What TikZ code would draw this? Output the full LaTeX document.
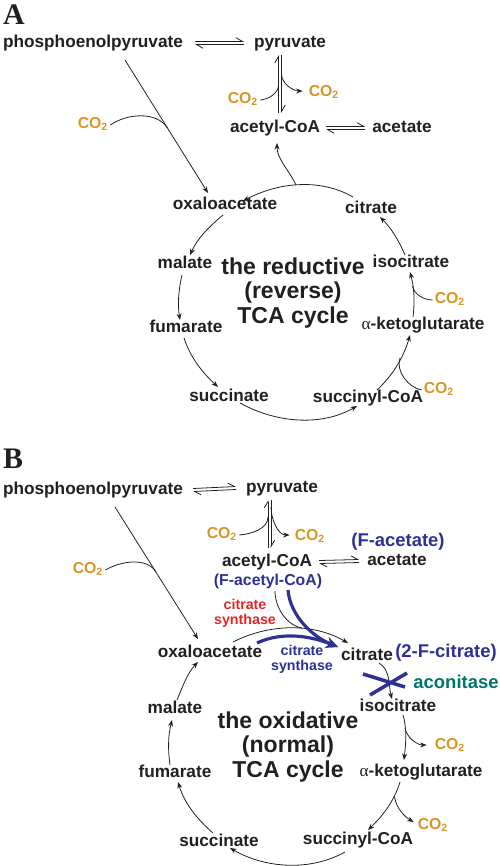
\documentclass[tikz,border=0pt]{standalone}
\usepackage{fontspec}
\setmainfont{Liberation Sans}
\newfontfamily\panelfont{Liberation Serif}
\usepackage{tikz}
\usetikzlibrary{arrows.meta, calc}
\definecolor{inkdark}{HTML}{231F20}
\definecolor{co2orange}{HTML}{D79628}
\definecolor{fluoroblue}{HTML}{2E3192}
\definecolor{enzred}{HTML}{E3262A}
\definecolor{acoteal}{HTML}{00756A}
\newcommand{\cotwo}{CO\textsubscript{2}}
\newcommand{\alphaglyph}{{\panelfont\mdseries α}}

\begin{document}
\begin{tikzpicture}[x=0.02cm, y=0.02cm,
    met/.style={font=\bfseries\fontsize{9.8}{11}\selectfont, text=inkdark, inner sep=1pt, text height=7pt, text depth=2pt},
    gas/.style={font=\bfseries\fontsize{9}{10}\selectfont, text=co2orange, inner sep=1pt, text height=6.5pt, text depth=2pt},
    cyclabel/.style={font=\bfseries\fontsize{13.1}{13.9}\selectfont, text=inkdark, align=center},
    fnote/.style={font=\bfseries\fontsize{10.5}{11}\selectfont, text=fluoroblue, inner sep=1pt},
    ftag/.style={font=\bfseries\fontsize{9}{10}\selectfont, text=fluoroblue, inner sep=1pt, text height=7pt, text depth=2pt},
    enzyme/.style={font=\bfseries\fontsize{8.1}{8.6}\selectfont, align=center, inner sep=1pt},
    panel/.style={font=\panelfont\bfseries\fontsize{17}{17}\selectfont, text=inkdark, inner sep=0pt},
    arr/.style={-{Stealth[length=1.3mm, width=1mm]}, line width=0.45pt, draw=inkdark, looseness=0.9},
    link/.style={line width=0.45pt, draw=inkdark, looseness=0.9},
    harp/.style={-{Straight Barb[harpoon, length=1.3mm, width=1.5mm]}, line width=0.45pt, draw=inkdark},
    blockarr/.style={-{Stealth[length=2.4mm, width=2.2mm]}, line width=1.8pt, draw=fluoroblue, looseness=0.9},
    block/.style={line width=2pt, draw=fluoroblue}
]
    \useasboundingbox (0,0) rectangle (500,-866);

    % --- A: the reductive cycle ---
    \node[panel] (labA) at (14,-15) {A};
    \node[met] (pepA) at (93,-43) {phosphoenolpyruvate};
    \node[met] (pyrA) at (290,-43) {pyruvate};
    \node[met] (accoaA) at (275,-128) {acetyl-CoA};
    \node[met] (acetA) at (402,-128) {acetate};
    \node[gas] (gasPepA) at (93,-125) {\cotwo};
    \node[gas] (gasInA) at (243,-100) {\cotwo};
    \node[gas] (gasOutA) at (324,-93) {\cotwo};
    \node[met] (oaaA) at (225,-205) {oxaloacetate};
    \node[met] (citA) at (371,-209) {citrate};
    \node[met] (malA) at (185,-264) {malate};
    \node[met] (isoA) at (411,-263) {isocitrate};
    \node[met] (fumA) at (186,-328) {fumarate};
    \node[met] (akgA) at (423,-325) {\alphaglyph-ketoglutarate};
    \node[met] (sucA) at (229,-397) {succinate};
    \node[met] (scoaA) at (368,-398) {succinyl-CoA};
    \node[gas] (gasIsoA) at (450,-300) {\cotwo};
    \node[gas] (gasAkgA) at (439,-390) {\cotwo};
    \node[cyclabel] (cycA) at (293,-293) {the reductive\\(reverse)\\TCA cycle};

    % equilibria above the cycle
    \draw[harp] ($(pepA.east)+(10,1.5)$) -- ($(pyrA.west)+(-8,1.5)$);
    \draw[harp] ($(pyrA.west)+(-8,-1.5)$) -- ($(pepA.east)+(10,-1.5)$);
    \draw[harp] ($(accoaA.north)+(3.5,5)$) -- ($(pyrA.south)+(-11.5,-2)$);
    \draw[harp] ($(pyrA.south)+(-8.5,-2)$) -- ($(accoaA.north)+(6.5,5)$);
    \draw[harp] ($(accoaA.east)+(4,1.5)$) -- ($(acetA.west)+(-5,1.5)$);
    \draw[harp] ($(acetA.west)+(-5,-1.5)$) -- ($(accoaA.east)+(4,-1.5)$);
    \coordinate (joinInA) at (278.5,-85);
    \coordinate (joinOutA) at (281.5,-74);
    \draw[link] (gasInA.east) to[out=5, in=-90] (joinInA);
    \draw[arr] (joinOutA) to[out=-90, in=180] ($(gasOutA.west)+(-4,2)$);

    % carboxylation of PEP
    \draw[arr] ($(pepA)+(32,-17)$) -- ($(oaaA)+(-17,12)$);
    \coordinate (joinPepA) at (167.4,-128);
    \draw[link] (gasPepA.east) to[out=35, in=122] (joinPepA);

    % cycle, counter-clockwise
    \coordinate (topA) at (296,-185);
    \draw[arr] ($(citA)+(-18,12)$) to[out=150, in=28] ($(oaaA)+(18,4)$);
    \draw[arr] (topA) to[out=115, in=-90] ($(accoaA)+(2,-15)$);
    \draw[arr] ($(oaaA)+(-2,-10)$) to[out=220, in=66] ($(malA)+(5,9)$);
    \draw[arr] ($(malA)+(-3,-11)$) to[out=257, in=99] ($(fumA)+(-6,8)$);
    \draw[arr] ($(fumA)+(-2,-10)$) to[out=288, in=137] ($(sucA)+(-11,10)$);
    \draw[arr] ($(sucA)+(11,-6)$) to[out=331, in=210] ($(scoaA)+(-11,-8)$);
    \draw[arr] ($(scoaA)+(9,8)$) to[out=43, in=254] ($(akgA)+(-13,-10)$);
    \draw[arr] ($(akgA)+(-10,8)$) to[out=83, in=285] ($(isoA)+(-1,-9)$);
    \draw[arr] ($(isoA)+(-6,8)$) to[out=113, in=315] ($(citA)+(9,-8)$);
    \coordinate (joinIsoA) at (412.5,-286);
    \coordinate (joinAkgA) at (400,-358);
    \draw[link] (gasIsoA.west) to[out=180, in=-80] (joinIsoA);
    \draw[link] (gasAkgA.west) to[out=170, in=250] (joinAkgA);

    % --- B: the oxidative cycle ---
    \node[panel] (labB) at (13,-459) {B};
    \node[met] (pepB) at (93,-490) {phosphoenolpyruvate};
    \node[met] (pyrB) at (282,-488) {pyruvate};
    \node[met] (accoaB) at (267,-562) {acetyl-CoA};
    \node[ftag] (faccoaB) at (268,-581) {(F-acetyl-CoA)};
    \node[met] (acetB) at (397,-561) {acetate};
    \node[fnote] (facetB) at (398,-542) {(F-acetate)};
    \node[gas] (gasPepB) at (88,-570) {\cotwo};
    \node[gas] (gasInB) at (222,-535) {\cotwo};
    \node[gas] (gasOutB) at (310,-537) {\cotwo};
    \node[enzyme, text=enzred] (csRed) at (245,-613) {citrate\\synthase};
    \node[met] (oaaB) at (210,-653) {oxaloacetate};
    \node[enzyme, text=fluoroblue] (csBlue) at (302,-659) {citrate\\synthase};
    \node[met] (citB) at (367,-656) {citrate};
    \node[fnote] (fcitB) at (446,-653) {(2-F-citrate)};
    \node[fnote, text=acoteal] (aconB) at (456,-682) {aconitase};
    \node[met] (isoB) at (398,-707) {isocitrate};
    \node[met] (akgB) at (421,-772) {\alphaglyph-ketoglutarate};
    \node[met] (scoaB) at (358,-840) {succinyl-CoA};
    \node[met] (sucB) at (219,-842) {succinate};
    \node[met] (fumB) at (175,-773) {fumarate};
    \node[met] (malB) at (175,-709) {malate};
    \node[gas] (gasIsoB) at (450,-746) {\cotwo};
    \node[gas] (gasAkgB) at (433,-826) {\cotwo};
    \node[cyclabel] (cycB) at (288,-747) {the oxidative\\(normal)\\TCA cycle};

    % equilibria above the cycle
    \draw[harp] ($(pepB.east)+(8,1.5)$) -- ($(pyrB.west)+(-8,1.5)$);
    \draw[harp] ($(pyrB.west)+(-8,-1.5)$) -- ($(pepB.east)+(8,-1.5)$);
    \draw[harp] ($(accoaB.north)+(1,4)$) -- ($(pyrB.south)+(-14,-2)$);
    \draw[harp] ($(pyrB.south)+(-11,-2)$) -- ($(accoaB.north)+(4,4)$);
    \draw[harp] ($(accoaB.east)+(5,1.5)$) -- ($(acetB.west)+(-6,1.5)$);
    \draw[harp] ($(acetB.west)+(-6,-1.5)$) -- ($(accoaB.east)+(5,-1.5)$);
    \coordinate (joinInB) at (268,-517);
    \coordinate (joinOutB) at (271,-507);
    \draw[link] (gasInB.east) to[out=5, in=-90] (joinInB);
    \draw[arr] (joinOutB) to[out=-90, in=180] ($(gasOutB.west)+(-3,2)$);

    % carboxylation of PEP
    \draw[arr] ($(pepB)+(22,-17)$) -- ($(oaaB)+(-12,14)$);
    \coordinate (joinPepB) at (156,-572);
    \draw[link] (gasPepB.east) to[out=30, in=122] (joinPepB);

    % cycle, clockwise
    \draw[arr] ($(oaaB)+(23,11)$) to[out=27, in=150] ($(citB)+(-19,13)$);
    \coordinate (joinTopB) at (302,-628);
    \draw[link] ($(faccoaB.south)+(7,0)$) to[out=-90, in=170] (joinTopB);
    \draw[blockarr] ($(faccoaB.south)+(20,1)$) to[out=-85, in=158] ($(citB)+(-29,9)$);
    \draw[blockarr] ($(oaaB)+(47,10)$) to[out=25, in=158] ($(citB)+(-29,9)$);
    \draw[arr] ($(citB)+(12,-7)$) to[out=-30, in=105] ($(isoB)+(-6,8)$);
    \draw[block] (363,-674) -- (405,-687);
    \draw[block] (407,-673) -- (370,-695);
    \draw[arr] ($(isoB)+(5,-8)$) to[out=-74, in=84] ($(akgB)+(-17,12)$);
    \coordinate (joinIsoB) at (405,-728);
    \draw[arr] (joinIsoB) to[out=-80, in=180] ($(gasIsoB.west)+(-6,1)$);
    \draw[arr] ($(akgB)+(-21,-10)$) to[out=253, in=44] ($(scoaB)+(10,10)$);
    \coordinate (joinAkgB) at (394.5,-797);
    \draw[arr] (joinAkgB) to[out=-80, in=150] ($(gasAkgB.west)+(-2,4)$);
    \draw[arr] ($(scoaB)+(-13,-12)$) to[out=209, in=330] ($(sucB)+(11,-6)$);
    \draw[arr] ($(sucB)+(-6,9)$) to[out=139, in=287] ($(fumB)+(3,-9)$);
    \draw[arr] ($(fumB)+(-5,8)$) to[out=98, in=256] ($(malB)+(-3,-11)$);
    \draw[arr] ($(malB)+(2,9)$) to[out=67, in=226] ($(oaaB)+(-12,-9)$);
\end{tikzpicture}
\end{document}
